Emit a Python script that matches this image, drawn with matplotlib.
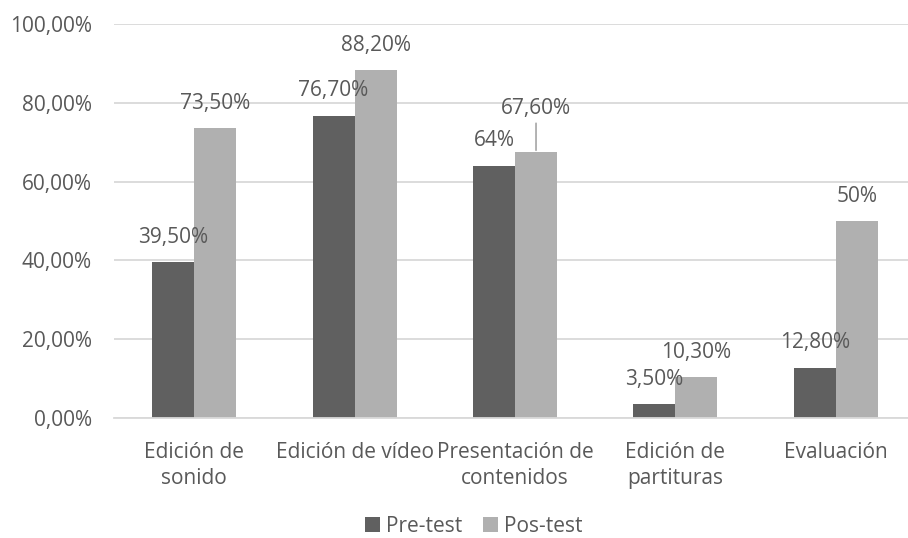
import numpy as np
import matplotlib
matplotlib.use('Agg')
import matplotlib.pyplot as plt
import matplotlib.ticker as ticker

# ------------------------------------------------------------------------------
# Data
# ------------------------------------------------------------------------------
categories = ['Edición de\nsonido', 'Edición de vídeo', 'Presentación de\ncontenidos',
              'Edición de\npartituras', 'Evaluación']
pre_test  = [0.395, 0.767, 0.64, 0.035, 0.128]
pos_test  = [0.735, 0.882, 0.676, 0.103, 0.50]
pre_labels = ['39,50%', '76,70%', '64%', '3,50%', '12,80%']
pos_labels = ['73,50%', '88,20%', '67,60%', '10,30%', '50%']
series_names = ['Pre-test', 'Pos-test']

# ------------------------------------------------------------------------------
# Style
# ------------------------------------------------------------------------------
plt.rcParams['font.family'] = ['Open Sans', 'DejaVu Sans']
text_color = '#595959'
grid_color = '#D9D9D9'
colors = ['#606060', '#B0B0B0']
fs = 15

fig = plt.figure(figsize=(9.08, 5.38), dpi=100)
ax = fig.add_axes([114 / 908, 1 - 418 / 538, 1 - 114 / 908, (418 - 24) / 538])

x = np.arange(len(categories))
w = 0.262

ax.bar(x - w / 2, pre_test, width=w, color=colors[0], label=series_names[0], zorder=2)
ax.bar(x + w / 2, pos_test, width=w, color=colors[1], label=series_names[1], zorder=2)

# --- Data labels ---
for i in range(len(categories)):
    ax.annotate(pre_labels[i], (x[i] - w / 2, pre_test[i]), xytext=(0, 18),
                textcoords='offset points', ha='center', va='center',
                fontsize=fs, color=text_color, zorder=4)
    if i == 2:
        # label moved up with leader line
        ax.annotate(pos_labels[i], (x[i] + w / 2, pos_test[i]), xytext=(0, 31),
                    textcoords='offset points', ha='center', va='center',
                    fontsize=fs, color=text_color, zorder=4,
                    arrowprops=dict(arrowstyle='-', color='#A6A6A6', lw=1.2,
                                    shrinkA=1, shrinkB=1))
    else:
        ax.annotate(pos_labels[i], (x[i] + w / 2, pos_test[i]), xytext=(0, 18),
                    textcoords='offset points', ha='center', va='center',
                    fontsize=fs, color=text_color, zorder=4)

# --- Axes formatting ---
ax.set_xlim(-0.5, 4.45)
ax.set_ylim(0, 1.0)
ax.set_yticks(np.arange(0, 1.01, 0.2))
ax.yaxis.set_major_formatter(ticker.FuncFormatter(
    lambda v, pos: f'{v * 100:.2f}'.replace('.', ',') + '%'))
ax.set_xticks(x)
ax.set_xticklabels(categories, linespacing=1.35)
ax.tick_params(axis='y', length=0, pad=16, labelsize=fs, labelcolor=text_color)
ax.tick_params(axis='x', length=0, pad=17, labelsize=fs, labelcolor=text_color)
ax.yaxis.grid(True, color=grid_color, linewidth=1.3, zorder=0)
ax.set_axisbelow(True)
for side in ['top', 'right', 'left']:
    ax.spines[side].set_visible(False)
ax.spines['bottom'].set_color(grid_color)
ax.spines['bottom'].set_linewidth(1.3)

# --- Legend ---
fig.legend(loc='center', bbox_to_anchor=(474 / 908, 1 - 526 / 538), ncol=2,
           frameon=False, fontsize=fs, labelcolor=text_color,
           handlelength=0.7, handleheight=0.7, handletextpad=0.3,
           columnspacing=1.0)

fig.savefig('out.png', dpi=100)
